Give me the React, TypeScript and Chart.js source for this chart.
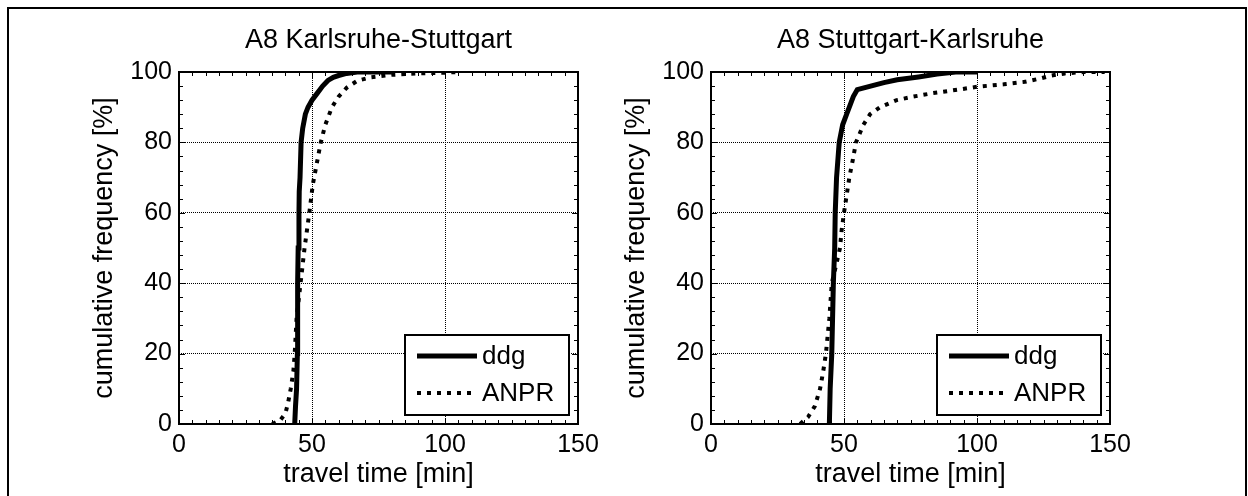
import React, { useEffect, useRef } from "react";
import { Chart, registerables } from "chart.js";
Chart.register(...registerables);

const FONT = "'Liberation Sans', Arial, sans-serif";

const panelTitles = ["A8 Karlsruhe-Stuttgart", "A8 Stuttgart-Karlsruhe"];
const seriesLabels = ["ddg", "ANPR"];
const xAxisTitle = "travel time [min]";
const yAxisTitle = "cumulative frequency [%]";
const xTickValues = [0, 50, 100, 150];
const yTickValues = [0, 20, 40, 60, 80, 100];

// Karlsruhe-Stuttgart
const ksDdgTime = [43.5, 43.8, 44.2, 44.5, 44.6, 44.6, 44.8, 45.1, 45.2, 45.5, 45.9, 46.5, 47.5, 48.5, 50, 52, 54, 56, 58, 60, 63, 67, 80];
const ksDdgFreq = [0, 5, 10, 20, 30, 40, 50, 60, 66, 70, 80, 84, 88, 90, 92, 94, 96, 97.6, 98.5, 99, 99.6, 100, 100];
const ksAnprTime = [35, 38, 40, 41, 42, 43, 43.5, 44.2, 45.7, 47.2, 49, 50.3, 51.8, 53.3, 55, 57.5, 60, 63, 67, 72, 80, 90, 100, 105];
const ksAnprFreq = [0, 1, 3, 6, 10, 15, 20, 30, 40, 50, 60, 68, 74, 80, 85, 90, 93, 95.5, 97.5, 98.5, 99.2, 99.6, 99.8, 100];

// Stuttgart-Karlsruhe
const skDdgTime = [44.5, 44.8, 45.4, 45.7, 46, 46.5, 46.7, 47.2, 48.2, 49.5, 51, 52.5, 53.5, 55, 60, 65, 70, 78, 85, 92, 100];
const skDdgFreq = [0, 10, 20, 30, 40, 50, 60, 70, 80, 85, 88, 91, 93, 95, 96, 97, 97.8, 98.6, 99.4, 100, 100];
const skAnprTime = [33.5, 36.5, 39, 41, 42.2, 43.2, 44.5, 45.4, 47, 48.5, 49.1, 50, 51, 52, 53.3, 54.5, 57.3, 59.8, 63.5, 69.8, 76, 83.5, 93, 100, 110, 118, 124, 128, 133, 140, 148];
const skAnprFreq = [0, 2, 5, 10, 15, 20, 30, 40, 45, 50, 55, 60, 65, 70, 75, 80, 85, 88, 90, 92, 93, 94, 95, 95.8, 96.5, 97.2, 98.2, 99, 99.6, 100, 100];

const panels = [
  { title: panelTitles[0], ddg: [ksDdgTime, ksDdgFreq], anpr: [ksAnprTime, ksAnprFreq] },
  { title: panelTitles[1], ddg: [skDdgTime, skDdgFreq], anpr: [skAnprTime, skAnprFreq] },
];

const toPoints = (xs: number[], ys: number[]) => xs.map((x, i) => ({ x, y: ys[i] }));

const framePlugin = {
  id: "matlabFrame",
  afterDraw(chart: any) {
    const { ctx, chartArea: a, scales } = chart;
    const xs = scales.x;
    const ys = scales.y;
    ctx.save();
    // minor / major ticks
    ctx.strokeStyle = "#000";
    ctx.lineWidth = 1;
    ctx.beginPath();
    for (let v = 0; v <= 150; v += 5) {
      const px = Math.round(xs.getPixelForValue(v)) + 0.5;
      const len = v % 50 === 0 ? 6 : 4;
      ctx.moveTo(px, a.bottom);
      ctx.lineTo(px, a.bottom - len);
      ctx.moveTo(px, a.top);
      ctx.lineTo(px, a.top + len);
    }
    for (let v = 0; v <= 100; v += 4) {
      const py = Math.round(ys.getPixelForValue(v)) + 0.5;
      const len = v % 20 === 0 ? 6 : 4;
      ctx.moveTo(a.left, py);
      ctx.lineTo(a.left + len, py);
      ctx.moveTo(a.right, py);
      ctx.lineTo(a.right - len, py);
    }
    ctx.stroke();
    // frame
    ctx.lineWidth = 2;
    ctx.strokeRect(a.left, a.top, a.right - a.left, a.bottom - a.top);

    // legend
    const bw = 164;
    const bh = 80;
    const bx = a.right - 9 - bw;
    const by = a.bottom - 9 - bh;
    ctx.fillStyle = "#fff";
    ctx.fillRect(bx, by, bw, bh);
    ctx.lineWidth = 2;
    ctx.strokeRect(bx, by, bw, bh);
    const rows = [by + 21, by + 58];
    chart.data.datasets.forEach((ds: any, i: number) => {
      const y = rows[i];
      ctx.save();
      ctx.strokeStyle = ds.borderColor;
      ctx.lineWidth = ds.borderWidth;
      ctx.setLineDash(ds.borderDash || []);
      ctx.lineCap = "butt";
      ctx.beginPath();
      ctx.moveTo(bx + 12, y);
      ctx.lineTo(bx + 72, y);
      ctx.stroke();
      ctx.restore();
      ctx.fillStyle = "#000";
      ctx.font = `26px ${FONT}`;
      ctx.textAlign = "left";
      ctx.textBaseline = "middle";
      ctx.fillText(ds.label, bx + 77, y + 1);
    });
    ctx.restore();
  },
};

function Panel({ index, left }: { index: number; left: number }) {
  const ref = useRef<HTMLCanvasElement>(null);
  useEffect(() => {
    const p = panels[index];
    const chart = new Chart(ref.current as HTMLCanvasElement, {
      type: "line",
      data: {
        datasets: [
          {
            label: seriesLabels[0],
            data: toPoints(p.ddg[0], p.ddg[1]),
            borderColor: "#000",
            borderWidth: 5,
            pointRadius: 0,
            tension: 0,
            fill: false,
          },
          {
            label: seriesLabels[1],
            data: toPoints(p.anpr[0], p.anpr[1]),
            borderColor: "#000",
            borderWidth: 4,
            borderDash: [4, 6],
            pointRadius: 0,
            tension: 0,
            fill: false,
          },
        ],
      } as any,
      options: {
        animation: false,
        responsive: false,
        devicePixelRatio: 1,
        events: [],
        layout: { padding: { left: 0, right: 46, top: 0, bottom: 0 } },
        plugins: {
          legend: { display: false },
          tooltip: { enabled: false },
          title: {
            display: true,
            text: p.title,
            fullSize: false,
            color: "#000",
            font: { family: FONT, size: 27, weight: "normal" },
            padding: { top: 24.8, bottom: 14.8 },
          },
        },
        scales: {
          x: {
            type: "linear",
            min: 0,
            max: 150,
            afterBuildTicks: (s: any) => {
              s.ticks = xTickValues.map((v) => ({ value: v }));
            },
            afterFit: (s: any) => {
              s.height = 72;
            },
            ticks: {
              color: "#000",
              font: { family: FONT, size: 25 },
              padding: 6,
              maxRotation: 0,
              autoSkip: false,
            },
            grid: { color: "#000", lineWidth: 1, drawTicks: false },
            border: { display: false, dash: [1, 1] },
            title: {
              display: true,
              text: xAxisTitle,
              color: "#000",
              font: { family: FONT, size: 27 },
              padding: { top: 0, bottom: 4.8 },
            },
          },
          y: {
            type: "linear",
            min: 0,
            max: 100,
            afterBuildTicks: (s: any) => {
              s.ticks = yTickValues.map((v) => ({ value: v }));
            },
            afterFit: (s: any) => {
              s.width = 179;
            },
            ticks: {
              color: "#000",
              font: { family: FONT, size: 25 },
              padding: 7,
              autoSkip: false,
            },
            grid: { color: "#000", lineWidth: 1, drawTicks: false },
            border: { display: false, dash: [1, 1] },
            title: {
              display: true,
              text: yAxisTitle,
              color: "#000",
              font: { family: FONT, size: 27 },
              padding: { top: 88, bottom: 0 },
            },
          },
        },
      } as any,
      plugins: [framePlugin],
    });
    return () => chart.destroy();
  }, [index]);
  return (
    <canvas
      ref={ref}
      width={624}
      height={496}
      style={{ position: "absolute", left, top: 0, width: 624, height: 496 }}
    />
  );
}

export default function App() {
  return (
    <div
      style={{
        position: "absolute",
        left: 0,
        top: 0,
        width: 1248,
        height: 496,
        overflow: "hidden",
        background: "#fff",
      }}
    >
      <div
        style={{
          position: "absolute",
          left: 7,
          top: 7,
          width: 1240,
          height: 520,
          border: "2px solid #000",
          boxSizing: "border-box",
        }}
      />
      <Panel index={0} left={0} />
      <Panel index={1} left={532} />
    </div>
  );
}
